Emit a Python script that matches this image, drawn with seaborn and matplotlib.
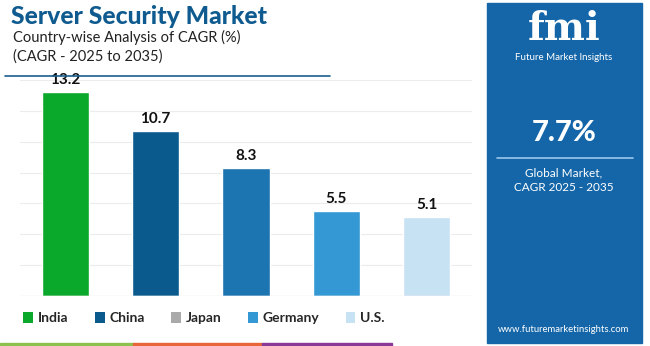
import matplotlib
matplotlib.use("Agg")
import matplotlib.pyplot as plt
import seaborn as sns
import pandas as pd
from matplotlib.patches import Rectangle, Patch
from matplotlib.lines import Line2D

countries = ["India", "China", "Japan", "Germany", "U.S."]
cagr = [13.2, 10.7, 8.3, 5.5, 5.1]
bar_colors = ["#0aa92c", "#0b5a8e", "#1c74b1", "#3498d5", "#c6e2f3"]
legend_colors = ["#0aa92c", "#0b5a8e", "#a9a9a9", "#3498d5", "#c6e2f3"]
title = "Server Security Market"
subtitle = "Country-wise Analysis of CAGR (%)\n(CAGR - 2025 to 2035)"
global_cagr = "7.7%"

sns.set_theme(style="white")
plt.rcParams["font.family"] = ["Lato", "DejaVu Sans"]

df = pd.DataFrame({"country": countries, "cagr": cagr})

fig = plt.figure(figsize=(6.5, 3.46), dpi=100)
ax = fig.add_axes([20/650, 1-296/346, 452/650, 216/346])
sns.barplot(data=df, x="country", y="cagr", hue="country", palette=bar_colors,
            width=0.52, legend=False, ax=ax, saturation=1)
ax.set_ylim(0, 14)
ax.set_xlim(-0.5, 4.5)
ax.yaxis.grid(True, color="#ececec", linewidth=0.8)
ax.set_axisbelow(True)
for s in ax.spines.values():
    s.set_visible(False)
ax.axhline(0, color="#e6e6e6", linewidth=1)
ax.set_xticks([])
ax.set_yticks(range(2, 15, 2), labels=[])
ax.tick_params(length=0)
ax.set_xlabel("")
ax.set_ylabel("")
for i, v in enumerate(cagr):
    ax.text(i, v + 0.35, f"{v}", ha="center", va="bottom", fontsize=11,
            fontweight="bold", color="#111111")

# Titles
fig.text(11/650, 1-16/346, title, fontsize=17.8, fontweight="black", color="#0f5b8f",
         va="center", ha="left")
fig.text(13/650, 1-47/346, subtitle, fontsize=10.5, color="#222222", va="center",
         ha="left", linespacing=1.4)
fig.add_artist(Line2D([5/650, 330/650], [1-76/346, 1-76/346], color="#1a5e8e",
                      linewidth=1.2))

# Legend
handles = [Patch(facecolor=c, edgecolor="none") for c in legend_colors]
fig.legend(handles, countries, loc="center", bbox_to_anchor=(204/650, 1-318/346),
           ncol=5, frameon=False, handlelength=0.7, handleheight=0.8,
           columnspacing=1.9, handletextpad=0.35,
           prop={"weight": "bold", "size": 10})

# Bottom color strip
for x0, x1, c in [(0, 133, "#8cc14d"), (133, 262, "#e8663a"), (262, 392, "#8a3a96")]:
    fig.add_artist(Rectangle((x0/650, 0), (x1-x0)/650, 3/346, color=c,
                             transform=fig.transFigure))

# Right panel
fig.add_artist(Rectangle((487/650, 3/346), 155/650, 340/346, color="#1466a8",
                         transform=fig.transFigure))
cx = 564/650
fig.text(cx, 1-29/346, "fmi", fontsize=28, fontweight="black", color="white",
         ha="center", va="center", family=["DejaVu Serif"])
fig.text(cx, 1-58/346, "Future Market Insights", fontsize=7, color="white",
         ha="center", va="center")
fig.text(cx, 1-133/346, global_cagr, fontsize=21, fontweight="black",
         color="white", ha="center", va="center")
fig.add_artist(Line2D([497/650, 633/650], [1-158/346, 1-158/346], color="#9cc8ea",
                      linewidth=1.2))
fig.text(cx, 1-180/346, "Global Market,\nCAGR 2025 - 2035", fontsize=8.5,
         color="white", ha="center", va="center", linespacing=1.4)
fig.text(cx, 1-330/346, "www.futuremarketinsights.com", fontsize=6.8,
         color="white", ha="center", va="center")

fig.savefig("out.png", dpi=100)
